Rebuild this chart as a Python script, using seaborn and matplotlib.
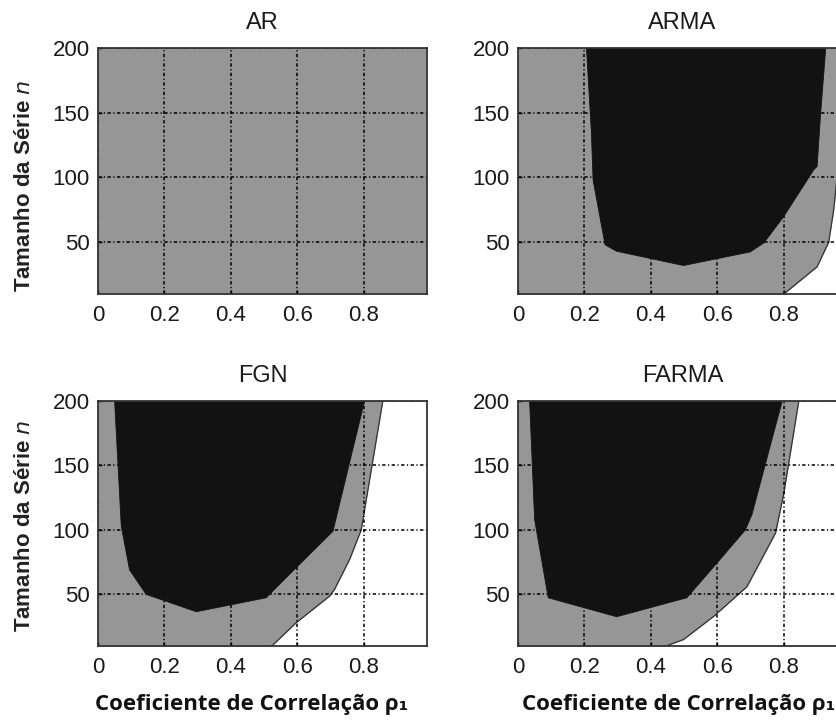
import numpy as np
import pandas as pd
import matplotlib
matplotlib.use("Agg")
import matplotlib.pyplot as plt
import seaborn as sns

# titulos dos paineis
titles = ["AR", "ARMA", "FGN", "FARMA"]

# fronteira cinza/branco: x (rho1) em funcao de n
# (AR: tudo cinza, sem fronteira)
arma_edge_x = [0.80, 0.90, 0.935, 0.95, 0.96, 0.97, 0.98]
arma_edge_n = [10, 31, 50, 75, 100, 150, 200]
fgn_edge_x = [0.523, 0.596, 0.697, 0.712, 0.757, 0.792, 0.807, 0.857]
fgn_edge_n = [10, 28, 48.7, 54, 77, 100, 123, 200]
farma_edge_x = [0.445, 0.498, 0.589, 0.689, 0.775, 0.80, 0.845]
farma_edge_n = [10, 15, 33, 56, 97.6, 128.5, 200]

# regiao preta (poligono: lado esquerdo de cima para baixo, depois lado direito de baixo para cima)
arma_black_x = [0.206, 0.221, 0.226, 0.262, 0.297, 0.498, 0.699, 0.74, 0.80, 0.89, 0.90, 0.91, 0.926]
arma_black_n = [200, 134, 98, 48, 43, 32, 42.5, 49.5, 70, 106, 108.5, 147, 200]
fgn_black_x = [0.05, 0.07, 0.095, 0.145, 0.296, 0.506, 0.596, 0.707, 0.802]
fgn_black_n = [200, 103, 69, 50, 36.6, 47.4, 70.6, 99, 200]
farma_black_x = [0.035, 0.05, 0.091, 0.297, 0.508, 0.599, 0.684, 0.704, 0.795]
farma_black_n = [200, 108, 47.4, 32.7, 47.4, 74.4, 100, 112, 200]

edges = [None, (arma_edge_x, arma_edge_n), (fgn_edge_x, fgn_edge_n), (farma_edge_x, farma_edge_n)]
blacks = [None, (arma_black_x, arma_black_n), (fgn_black_x, fgn_black_n), (farma_black_x, farma_black_n)]

x_ticks = [0, 0.2, 0.4, 0.6, 0.8]
x_ticklabels = ["0", "0.2", "0.4", "0.6", "0.8"]
y_ticks = [50, 100, 150, 200]

GREY = "#969696"
BLACK = "#121212"

sns.set_theme(style="white")
plt.rcParams['font.family'] = ['Liberation Sans', 'DejaVu Sans']

fig = plt.figure(figsize=(8.37, 7.22), dpi=100)

W, H = 837, 722
# caixas dos eixos em pixels (esq, topo, dir, base); a coluna da direita sai da figura
boxes = [(98, 48, 427, 294), (518, 48, 847, 294),
         (98, 401, 427, 646), (518, 401, 847, 646)]
ylabel_y = [0.44, None, 0.49, None]
xlabel_x = [None, None, 0.468, 0.489]

grid_ls = (0, (2.2, 1.6, 0.8, 1.6))

for i, (l, t, r, b) in enumerate(boxes):
    ax = fig.add_axes([l / W, 1 - b / H, (r - l) / W, (b - t) / H])
    ax.set_facecolor("white")
    ax.set_xlim(0, 0.99)
    ax.set_ylim(10, 200)

    if edges[i] is None:
        ax.fill_betweenx([10, 200], 0, 0.99, color=GREY, lw=0, zorder=1)
    else:
        ex, en = edges[i]
        df = pd.DataFrame({"x": ex, "n": en})
        ax.fill_betweenx(df["n"], 0, df["x"], color=GREY, lw=0, zorder=1)
        sns.lineplot(data=df, x="x", y="n", sort=False, estimator=None,
                     color="#333333", lw=0.9, ax=ax, zorder=1.2)

    if blacks[i] is not None:
        bx, bn = blacks[i]
        ax.fill(bx, bn, color=BLACK, lw=0.6, ec=BLACK, zorder=2)

    ax.set_axisbelow("line")  # grade em zorder 1.5: acima do cinza, abaixo do preto
    ax.grid(True, color="black", linestyle=grid_ls, lw=1.1)
    ax.set_xticks(x_ticks)
    ax.set_xticklabels(x_ticklabels)
    ax.set_yticks(y_ticks)
    ax.tick_params(axis="both", direction="in", length=3, width=1, color="black",
                   labelsize=16, labelcolor="#1a1a1a", left=True, bottom=True)
    ax.tick_params(axis="x", pad=8)
    ax.tick_params(axis="y", pad=6)
    for s in ax.spines.values():
        s.set_color("#333333")
        s.set_linewidth(1.3)
        s.set_zorder(4)
    ax.set_xlabel("")
    ax.set_ylabel("")
    ax.set_title(titles[i], fontsize=17, pad=14, color="#1a1a1a")

    if ylabel_y[i] is not None:
        ax.set_ylabel("Tamanho da Série $\\mathit{n}$", fontsize=16, fontweight="bold",
                      color="#222222")
        ax.yaxis.set_label_coords(-0.19, ylabel_y[i])
    if xlabel_x[i] is not None:
        ax.set_xlabel("Coeficiente de Correlação ρ₁", fontsize=16, fontweight="bold",
                      family=["Open Sans", "DejaVu Sans"], color="#111111")
        ax.xaxis.set_label_coords(xlabel_x[i], -0.195)

fig.savefig("out.png", dpi=100)
